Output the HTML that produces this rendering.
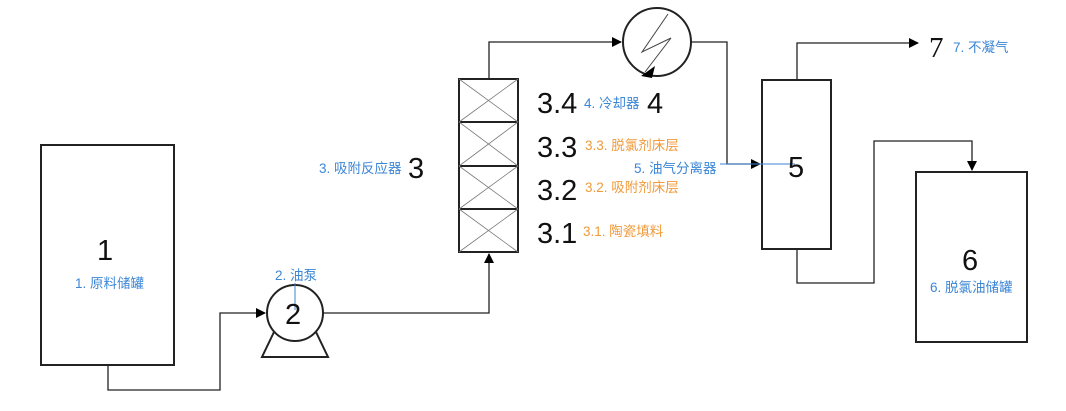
<!DOCTYPE html>
<html><head><meta charset="utf-8"><style>
body{margin:0;background:#fff;}
svg text{font-family:"Liberation Sans","Noto Sans CJK SC",sans-serif;}
.b{fill:#3b86d6;font-size:13.5px;}
.o{fill:#f09a3a;font-size:13.5px;}
.n{fill:#111;font-size:29px;}
</style></head><body>
<svg width="1066" height="406" viewBox="0 0 1066 406" xmlns="http://www.w3.org/2000/svg">
<defs><marker id="a" markerWidth="10" markerHeight="10" refX="9" refY="5" orient="auto" markerUnits="userSpaceOnUse"><path d="M0,0L10,5L0,10z" fill="#000"/></marker></defs>
<g fill="none" stroke="#222" stroke-width="1.3">
<rect x="41" y="145" width="133" height="220" stroke-width="2"/>
<polyline points="108,365 108,390 220,390 220,313 265,313" marker-end="url(#a)"/>
<circle cx="295" cy="313" r="28" stroke-width="2"/>
<path d="M274,332 L262,357 L328,357 L316,332" stroke-width="2"/>
<polyline points="323,313 489,313 489,254" marker-end="url(#a)"/>
<g stroke-width="2">
<rect x="459" y="79" width="59" height="43"/><rect x="459" y="122" width="59" height="44"/>
<rect x="459" y="166" width="59" height="43"/><rect x="459" y="209" width="59" height="43"/>
</g>
<g stroke="#777" stroke-width="0.8">
<path d="M459,79L518,122M518,79L459,122M459,122L518,166M518,122L459,166M459,166L518,209M518,166L459,209M459,209L518,252M518,209L459,252"/>
</g>
<polyline points="489,79 489,42 621,42" marker-end="url(#a)"/>
<circle cx="657" cy="42" r="34" stroke-width="2"/>
<polyline points="668,14 642,52 671,38 645,72" stroke="#444" stroke-width="1"/>
<polyline points="691,42 727,42 727,164 760,164" marker-end="url(#a)"/>
<rect x="762" y="80" width="69" height="169" stroke-width="2"/>
<polyline points="797,80 797,43 918,43" marker-end="url(#a)"/>
<polyline points="797,249 797,283 874,283 874,141 972,141 972,170" marker-end="url(#a)"/>
<rect x="916" y="172" width="111" height="170" stroke-width="2"/>
</g>
<path d="M641,76 L655,66 L652,78z" fill="#000"/>
<line x1="295" y1="283" x2="295" y2="310" stroke="#3b86d6" stroke-width="1"/>
<line x1="720" y1="164" x2="795" y2="164" stroke="#3b86d6" stroke-width="1"/>
<text class="n" x="97" y="260">1</text>
<text class="b" x="75" y="288">1. 原料储罐</text>
<text class="n" x="285" y="324">2</text>
<text class="b" x="275" y="280">2. 油泵</text>
<text class="b" x="319" y="173">3. 吸附反应器</text>
<text class="n" x="408" y="178">3</text>
<text class="n" x="537" y="113">3.4</text>
<text class="b" x="584" y="108">4. 冷却器</text>
<text class="n" x="647" y="113">4</text>
<text class="n" x="537" y="157">3.3</text>
<text class="o" x="585" y="150">3.3. 脱氯剂床层</text>
<text class="n" x="537" y="200">3.2</text>
<text class="o" x="585" y="192">3.2. 吸附剂床层</text>
<text class="n" x="537" y="243">3.1</text>
<text class="o" x="583" y="236">3.1. 陶瓷填料</text>
<text class="b" x="634" y="173">5. 油气分离器</text>
<text class="n" x="788" y="177">5</text>
<text x="929" y="57" style="font-family:'Liberation Serif',serif;font-size:29px;fill:#111">7</text>
<text class="b" x="953" y="52">7. 不凝气</text>
<text class="n" x="962" y="270">6</text>
<text class="b" x="930" y="292">6. 脱氯油储罐</text>
</svg>
</body></html>
